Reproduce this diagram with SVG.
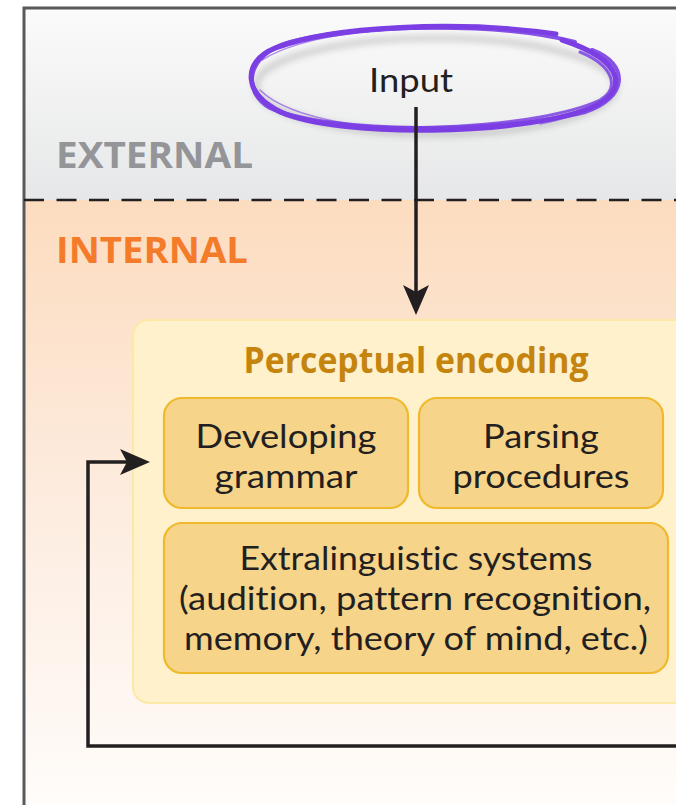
<svg xmlns="http://www.w3.org/2000/svg" width="676" height="805" viewBox="0 0 676 805">
  <style>
    .body { font-family: Lato, "Open Sans", "Noto Sans", sans-serif; font-size: 33px; fill: #231f20; text-anchor: middle; font-variant-ligatures: none; }
    .zone { font-family: "Open Sans", "Liberation Sans", sans-serif; font-weight: 700; font-size: 35px; }
    .title { font-family: "Open Sans", "Liberation Sans", sans-serif; font-weight: 700; font-size: 36px; fill: #c4840e; text-anchor: middle; }
    .sub { fill: #f6d489; stroke: #f0b92c; stroke-width: 2.2; }
    .wire { fill: none; stroke: #231f20; stroke-width: 3.5; }
    .brush { fill: none; stroke: #7b3fe3; stroke-linecap: round; }
  </style>
  <defs>
    <linearGradient id="extBg" x1="0" y1="0" x2="0" y2="1">
      <stop offset="0" stop-color="#fbfbfb"/>
      <stop offset="1" stop-color="#e6e7e8"/>
    </linearGradient>
    <linearGradient id="intBg" x1="0" y1="0" x2="0" y2="1">
      <stop offset="0" stop-color="#fcdcbf"/>
      <stop offset="0.55" stop-color="#fdeee3"/>
      <stop offset="1" stop-color="#fffdfb"/>
    </linearGradient>
    <filter id="soft" x="-10%" y="-20%" width="120%" height="150%">
      <feGaussianBlur stdDeviation="3"/>
    </filter>
    <marker id="head" viewBox="0 0 30 26" refX="22" refY="13" markerWidth="30" markerHeight="26" markerUnits="userSpaceOnUse" orient="auto">
      <path d="M0,0 L30,13 L0,26 L7,13 Z" fill="#231f20"/>
    </marker>
  </defs>

  <!-- backgrounds of the two zones -->
  <rect x="24" y="8" width="680" height="192" fill="url(#extBg)"/>
  <rect x="24" y="200" width="680" height="620" fill="url(#intBg)"/>
  <!-- outer frame -->
  <path d="M24,820 V8 H700" fill="none" stroke="#58595b" stroke-width="3"/>
  <!-- boundary between external and internal -->
  <line x1="24" y1="200" x2="700" y2="200" stroke="#231f20" stroke-width="2.5" stroke-dasharray="20 12.5"/>

  <text class="zone" x="56" y="168" fill="#939598" textLength="197" lengthAdjust="spacingAndGlyphs">EXTERNAL</text>
  <text class="zone" x="56" y="263" fill="#f47b2a" textLength="192" lengthAdjust="spacingAndGlyphs">INTERNAL</text>

  <!-- Input, circled with a brush stroke -->
  <g id="input">
    <ellipse cx="436" cy="86" rx="180" ry="48" fill="none" stroke="#000" stroke-opacity="0.15" stroke-width="7" filter="url(#soft)"/>
    <!-- layered strokes, opened at the upper right where the brush starts -->
    <path class="brush" stroke-width="5" d="M556,34 C460,20 330,26 275,48 C240,62 245,96 280,112 C340,138 520,136 590,108 C630,92 625,60 562,40"/>
    <path class="brush" stroke-width="4" stroke-opacity="0.9" d="M575,42 C500,22 360,24 290,42 C245,55 242,92 270,108 C330,134 500,134 585,112 C628,98 630,64 592,50"/>
    <path class="brush" stroke-width="3" stroke-opacity="0.85" d="M520,30 C420,24 320,30 268,52 C236,68 250,104 300,118 C380,136 540,128 600,100 C620,88 614,66 580,52"/>
    <path class="brush" stroke-width="1.5" stroke-opacity="0.6" d="M470,27 C380,26 300,36 262,60 M260,90 C290,120 380,134 470,130 M540,124 C590,114 622,96 616,76"/>
    <text class="body" x="411" y="92" textLength="84" lengthAdjust="spacingAndGlyphs">Input</text>
  </g>

  <!-- Perceptual encoding container -->
  <g id="perceptual-encoding">
    <rect x="133" y="320" width="580" height="383" rx="16" fill="#fff1cb" stroke="#fde9a7" stroke-width="2"/>
    <text class="title" x="416" y="373" textLength="345" lengthAdjust="spacingAndGlyphs">Perceptual encoding</text>
  </g>

  <g id="developing-grammar">
    <rect class="sub" x="164" y="398" width="244" height="110" rx="18"/>
    <text class="body" x="286" y="448" textLength="181" lengthAdjust="spacingAndGlyphs">Developing</text>
    <text class="body" x="286" y="488" textLength="143" lengthAdjust="spacingAndGlyphs">grammar</text>
  </g>

  <g id="parsing-procedures">
    <rect class="sub" x="419" y="398" width="244" height="110" rx="18"/>
    <text class="body" x="541" y="448" textLength="116" lengthAdjust="spacingAndGlyphs">Parsing</text>
    <text class="body" x="541" y="488" textLength="177" lengthAdjust="spacingAndGlyphs">procedures</text>
  </g>

  <g id="extralinguistic-systems">
    <rect class="sub" x="164" y="523" width="504" height="150" rx="18"/>
    <text class="body" x="416" y="570" textLength="353" lengthAdjust="spacingAndGlyphs">Extralinguistic systems</text>
    <text class="body" x="415" y="610" textLength="472" lengthAdjust="spacingAndGlyphs">(audition, pattern recognition,</text>
    <text class="body" x="416" y="650" textLength="464" lengthAdjust="spacingAndGlyphs">memory, theory of mind, etc.)</text>
  </g>

  <!-- connectors -->
  <g id="connectors">
    <path class="wire" d="M416,107 V307" marker-end="url(#head)"/>
    <path class="wire" d="M700,746 H88 V462 H142" marker-end="url(#head)"/>
  </g>
</svg>
